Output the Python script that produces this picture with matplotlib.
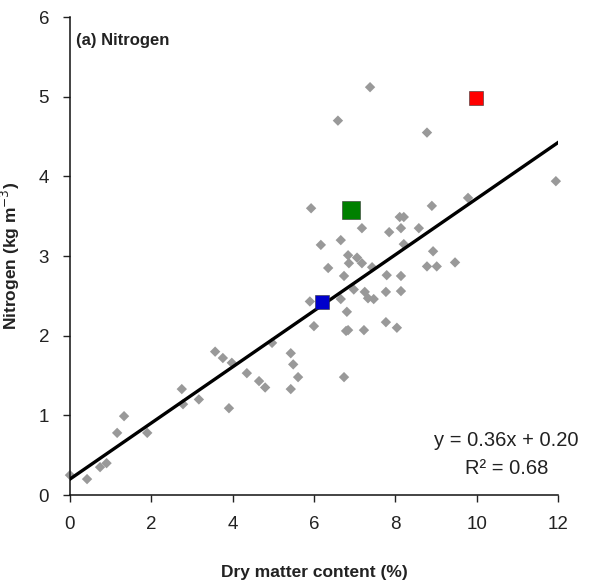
import matplotlib
matplotlib.use("Agg")
import matplotlib.pyplot as plt
import numpy as np

plt.rcParams['font.family'] = ['Liberation Sans', 'DejaVu Sans']

# Gray diamond samples (dry matter %, nitrogen kg m-3)
dm = [0.0, 0.42, 0.74, 0.90, 1.16, 1.33, 1.90, 2.75, 2.78, 3.17, 3.57, 3.76, 3.91, 3.98,
      4.35, 4.65, 4.80, 4.97, 5.43, 5.49, 5.61, 5.43, 6.74, 6.79,
      5.93, 8.90, 8.11, 8.21, 7.18, 7.85, 8.14, 8.58, 6.17, 6.66, 8.21,
      6.84, 7.06, 6.86, 7.18, 7.43, 6.35, 8.93, 8.78, 9.02, 9.47,
      6.74, 7.79, 8.14, 6.98, 7.25, 7.33, 7.47, 7.77, 8.14, 6.66, 5.90,
      6.81, 6.00, 6.84, 7.23, 7.77, 8.04, 9.79, 11.95,
      7.38, 6.59, 8.78]
nit = [0.25, 0.20, 0.35, 0.40, 0.78, 0.99, 0.78, 1.33, 1.14, 1.20, 1.80, 1.72, 1.09, 1.66,
       1.53, 1.43, 1.35, 1.91, 1.78, 1.64, 1.48, 1.33, 1.48, 2.06,
       3.60, 3.63, 3.49, 3.49, 3.35, 3.30, 3.35, 3.35, 3.14, 3.20, 3.15,
       3.01, 2.98, 2.91, 2.91, 2.86, 2.85, 3.06, 2.87, 2.87, 2.92,
       2.75, 2.76, 2.75, 2.58, 2.55, 2.47, 2.46, 2.55, 2.56, 2.46, 2.43,
       2.30, 2.12, 2.07, 2.07, 2.17, 2.10, 3.73, 3.94,
       5.12, 4.70, 4.55]

# Highlighted samples
hl_x = [6.91, 9.98, 6.20]
hl_y = [3.58, 4.98, 2.42]
hl_colors = ['#008000', '#ff0000', '#0000cc']
hl_sizes = [150, 90, 100]

# Fit line
fit_slope = 0.352
fit_intercept = 0.20
fit_x = [0, 12]

x_ticks = [0, 2, 4, 6, 8, 10, 12]
y_ticks = [0, 1, 2, 3, 4, 5, 6]

fig = plt.figure(figsize=(5.91, 5.85), dpi=100)
ax = fig.add_axes([0.1184, 0.1538, 0.8256, 0.817])

ax.scatter(dm, nit, marker='D', s=28, color='#999999', edgecolors='none', zorder=2, clip_on=False)
fx = np.array(fit_x, dtype=float)
ax.plot(fx, fit_slope * fx + fit_intercept, color='black', lw=2.4, zorder=3)
for x, y, c, s in zip(hl_x, hl_y, hl_colors, hl_sizes):
    ax.scatter([x], [y], marker='s', s=s, color=c, edgecolors='#333333', linewidths=0.4, zorder=4)

ax.set_xlim(0, 12)
ax.set_ylim(0, 6)
ax.set_xticks(x_ticks)
ax.set_yticks(y_ticks)
ax.tick_params(direction='out', length=5, width=1, labelsize=13.5, colors='#222222')
ax.tick_params(axis='x', pad=10)
ax.tick_params(axis='y', pad=10)
ax.spines['top'].set_visible(False)
ax.spines['right'].set_visible(False)
for s in ['left', 'bottom']:
    ax.spines[s].set_linewidth(1.1)
    ax.spines[s].set_color('#111111')

ax.set_xlabel('Dry matter content (%)', fontsize=12.5, fontweight='bold', labelpad=23, color='#222222')
ax.set_ylabel('Nitrogen (kg m$^{-3}$)', fontsize=12.5, fontweight='bold', labelpad=12, color='#222222')

ax.text(0.012, 0.967, '(a) Nitrogen', transform=ax.transAxes, fontsize=12, fontweight='bold',
        va='top', ha='left', color='#222222')
ax.text(0.895, 0.115, 'y = 0.36x + 0.20', transform=ax.transAxes, fontsize=14.5, ha='center', va='center',
        color='#222222', clip_on=False)
ax.text(0.895, 0.056, 'R² = 0.68', transform=ax.transAxes, fontsize=14.5, ha='center', va='center',
        color='#222222', clip_on=False)

fig.savefig('out.png', dpi=100)
